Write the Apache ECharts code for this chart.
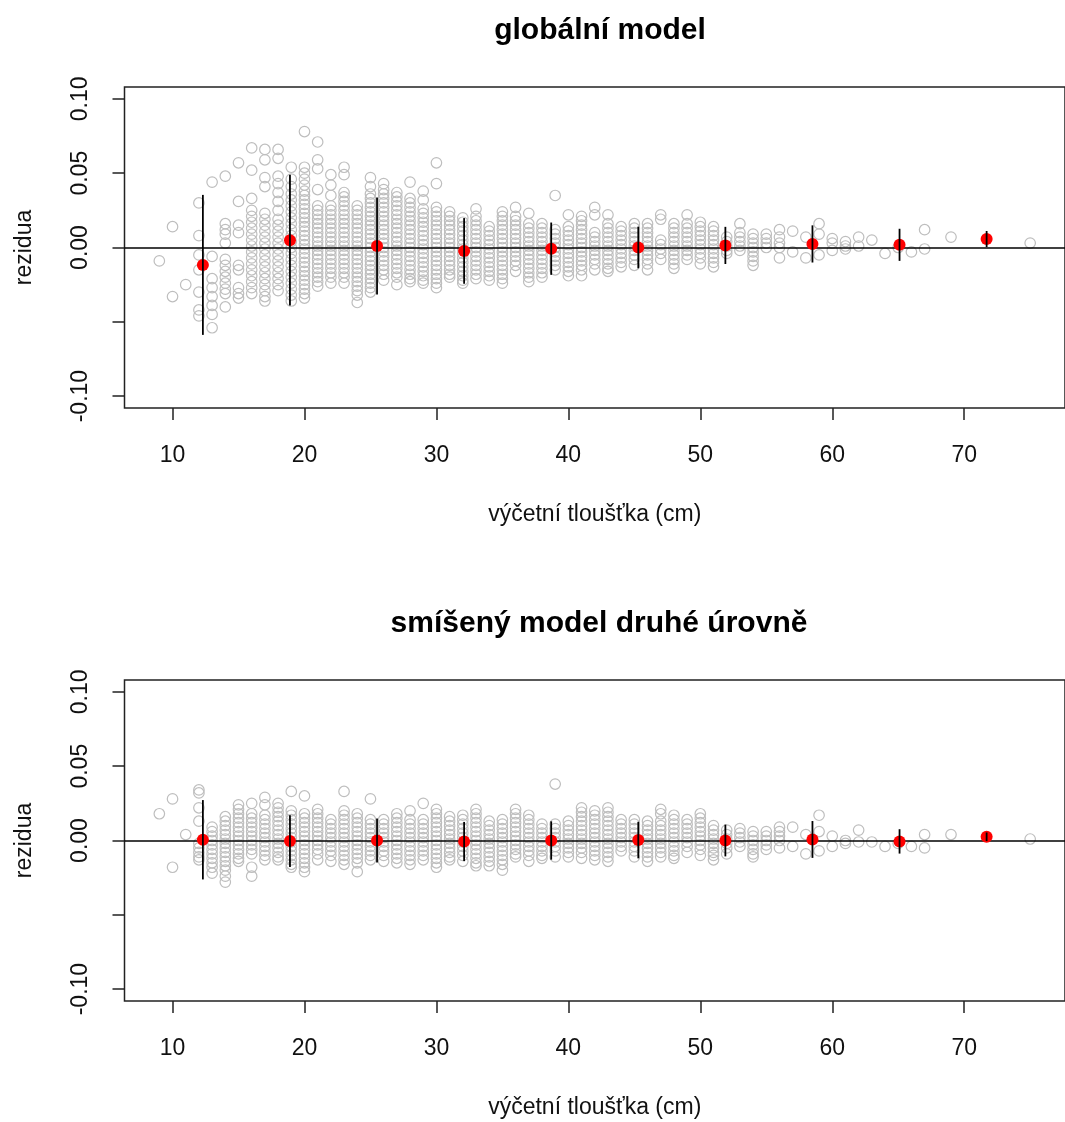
<!DOCTYPE html>
<html>
<head>
<meta charset="utf-8">
<script src="https://cdn.jsdelivr.net/npm/echarts@6/dist/echarts.min.js"></script>
<style>html,body{margin:0;padding:0;background:#fff}#c{width:1065px;height:1122px}</style>
</head>
<body>
<div id="c"></div>
<script>
// ---- data ----
const titles = ['globální model', 'smíšený model druhé úrovně'];
const xName = 'výčetní tloušťka (cm)';
const yName = 'rezidua';
const xTicks = [10, 20, 30, 40, 50, 60, 70];
const yTicks = [-0.10, -0.05, 0.00, 0.05, 0.10];
const yTickLabels = ['-0.10', '', '0.00', '0.05', '0.10'];

const diam = [9,10,11,12,13,14,15,16,17,18,19,20,21,22,23,24,25,26,27,28,29,30,31,32,33,34,35,36,37,38,39,40,41,42,43,44,45,46,47,48,49,50,51,52,53,54,55,56,57,58,59,60,61,62,63,64,65,66,67,69,75];

const residGlobal = [
 [-.009],
 [.014,-.033],
 [-.025],
 [.030,.008,-.005,-.015,-.030,-.042,-.046],
 [.044,-.006,-.021,-.027,-.033,-.039,-.045,-.054],
 [.048,.016,.012,.009,.003,-.008,-.012,-.016,-.020,-.024,-.028,-.031,-.040],
 [.057,.031,.015,.010,-.012,-.015,-.027,-.031,-.034],
 [.067,.052,.033,.025,.021,.017,.013,.009,.005,.001,-.003,-.007,-.011,-.015,-.019,-.023,-.027,-.031],
 [.066,.059,.047,.041,.023,.019,.015,.011,.007,.003,-.001,-.005,-.009,-.013,-.017,-.021,-.025,-.029,-.033,-.036],
 [.066,.060,.048,.043,.037,.031,.025,.019,.015,.011,.007,.003,-.001,-.005,-.009,-.013,-.017,-.021,-.025,-.029],
 [.054,.046,.041,.036,.032,.028,.024,.020,.016,.012,.008,.004,.000,-.004,-.008,-.012,-.016,-.020,-.024,-.028,-.032,-.036],
 [.078,.054,.050,.046,.042,.038,.035,.032,.029,.026,.023,.020,.017,.014,.011,.008,.005,.002,-.001,-.004,-.007,-.010,-.013,-.016,-.019,-.022,-.025,-.028,-.031,-.034],
 [.071,.059,.053,.039,.028,.025,.022,.019,.016,.013,.010,.007,.004,.001,-.002,-.005,-.008,-.011,-.014,-.017,-.020,-.023,-.026],
 [.049,.042,.035,.028,.025,.022,.019,.016,.013,.010,.007,.004,.001,-.002,-.005,-.008,-.011,-.014,-.017,-.020,-.024],
 [.054,.049,.037,.034,.031,.028,.025,.022,.019,.016,.013,.010,.007,.004,.001,-.002,-.005,-.008,-.011,-.014,-.017,-.020,-.024],
 [.028,.025,.022,.019,.016,.013,.010,.007,.004,.001,-.002,-.005,-.008,-.011,-.014,-.017,-.020,-.023,-.026,-.029,-.032,-.037],
 [.047,.041,.036,.033,.030,.027,.024,.021,.018,.015,.012,.009,.006,.003,.000,-.003,-.006,-.009,-.012,-.015,-.018,-.021,-.024,-.027,-.030],
 [.043,.039,.036,.033,.030,.027,.024,.021,.018,.015,.012,.009,.006,.003,.000,-.003,-.006,-.009,-.012,-.015,-.018,-.022],
 [.037,.034,.031,.028,.025,.022,.019,.016,.013,.010,.007,.004,.001,-.002,-.005,-.008,-.011,-.014,-.017,-.020,-.025],
 [.044,.033,.030,.027,.024,.021,.018,.015,.012,.009,.006,.003,.000,-.003,-.006,-.009,-.012,-.015,-.018,-.021,-.023],
 [.038,.032,.026,.023,.020,.017,.014,.011,.008,.005,.002,-.001,-.004,-.007,-.010,-.013,-.016,-.019,-.022,-.024],
 [.057,.043,.027,.024,.021,.018,.015,.012,.009,.006,.003,.000,-.003,-.006,-.009,-.012,-.015,-.018,-.021,-.024,-.027],
 [.024,.021,.018,.015,.012,.009,.006,.003,.000,-.003,-.006,-.009,-.012,-.015,-.018,-.020],
 [.020,.017,.014,.011,.008,.005,.002,-.001,-.004,-.007,-.010,-.013,-.016,-.019,-.022,-.024],
 [.026,.021,.018,.015,.012,.009,.006,.003,.000,-.003,-.006,-.009,-.012,-.015,-.018,-.021],
 [.014,.011,.008,.005,.002,-.001,-.004,-.007,-.010,-.013,-.016,-.019,-.022],
 [.024,.021,.018,.015,.012,.009,.006,.003,.000,-.003,-.006,-.009,-.012,-.015,-.018,-.021,-.024],
 [.027,.021,.018,.015,.012,.009,.006,.003,.000,-.003,-.006,-.009,-.012,-.016],
 [.023,.016,.013,.010,.007,.004,.001,-.002,-.005,-.008,-.011,-.014,-.017,-.020,-.023],
 [.016,.013,.010,.007,.004,.001,-.002,-.005,-.008,-.011,-.014,-.017,-.020],
 [.035,.012,.009,.006,.003,.000,-.003,-.006,-.009,-.012,-.015],
 [.022,.014,.011,.008,.005,.002,-.001,-.004,-.007,-.010,-.013,-.016,-.019],
 [.021,.018,.015,.012,.009,.006,.003,.000,-.003,-.006,-.009,-.012,-.015,-.019],
 [.027,.022,.010,.007,.004,.001,-.002,-.005,-.008,-.011,-.015],
 [.022,.016,.013,.010,.007,.004,.001,-.002,-.005,-.008,-.011,-.014,-.016],
 [.014,.011,.008,.005,.002,-.001,-.004,-.007,-.010,-.013],
 [.016,.013,.010,.007,.004,.001,-.002,-.005,-.008,-.012],
 [.016,.013,.010,.007,.004,.001,-.002,-.005,-.008,-.011,-.015],
 [.022,.019,.005,.002,-.001,-.004,-.008],
 [.016,.013,.010,.007,.004,.001,-.002,-.005,-.008,-.011,-.014],
 [.022,.016,.013,.010,.007,.004,.001,-.002,-.005,-.008],
 [.017,.014,.011,.008,.005,.002,-.001,-.004,-.007,-.011],
 [.014,.011,.008,.005,.002,-.001,-.004,-.007,-.010,-.013],
 [.007,.004,.001,-.002,-.004],
 [.016,.010,.007,.004,.001,-.002],
 [.009,.006,.003,.000,-.003,-.006,-.009,-.012],
 [.009,.006,.003,.000],
 [.012,.007,.003,.000,-.007],
 [.011,-.003],
 [.007,-.007],
 [.016,.009,-.005],
 [.006,.003,-.002],
 [.004,.001,-.001],
 [.007,.001],
 [.005],
 [-.004],
 [.000],
 [-.003],
 [.012,-.001],
 [.007],
 [.003]
];

const residMixed = [
 [.018],
 [.028,-.018],
 [.004],
 [.034,.032,.022,.013,-.002,-.005,-.008,-.011,-.013],
 [.009,.006,.003,.000,-.003,-.006,-.009,-.012,-.015,-.018,-.022],
 [.016,.013,.010,.007,.004,.001,-.002,-.005,-.008,-.011,-.014,-.017,-.020,-.024,-.028],
 [.024,.021,.018,.015,.012,.009,.006,.003,.000,-.003,-.006,-.009,-.012,-.014],
 [.025,.018,.015,.012,.009,.006,.003,.000,-.003,-.006,-.009,-.018,-.024],
 [.029,.024,.017,.014,.011,.008,.005,.002,-.001,-.004,-.007,-.010,-.013],
 [.025,.022,.019,.016,.013,.010,.007,.004,.001,-.002,-.005,-.008,-.011,-.013],
 [.033,.020,.017,.014,.011,.008,.005,.002,-.001,-.004,-.007,-.010,-.013,-.016,-.018],
 [.030,.018,.015,.012,.009,.006,.003,.000,-.003,-.006,-.009,-.012,-.015,-.018,-.021],
 [.021,.018,.015,.012,.009,.006,.003,.000,-.003,-.006,-.009,-.013],
 [.014,.011,.008,.005,.002,-.001,-.004,-.007,-.010,-.014],
 [.033,.020,.017,.014,.011,.008,.005,.002,-.001,-.004,-.007,-.010,-.013,-.016],
 [.018,.015,.012,.009,.006,.003,.000,-.003,-.006,-.009,-.012,-.015,-.021],
 [.028,.014,.011,.008,.005,.002,-.001,-.004,-.007,-.010,-.013],
 [.014,.011,.008,.005,.002,-.001,-.004,-.007,-.010,-.014],
 [.018,.015,.012,.009,.006,.003,.000,-.003,-.006,-.009,-.012,-.015],
 [.020,.014,.011,.008,.005,.002,-.001,-.004,-.007,-.010,-.013,-.016],
 [.025,.014,.011,.008,.005,.002,-.001,-.004,-.007,-.010,-.013],
 [.021,.018,.015,.012,.009,.006,.003,.000,-.003,-.006,-.009,-.012,-.015,-.018],
 [.016,.013,.010,.007,.004,.001,-.002,-.005,-.008,-.011,-.013],
 [.017,.014,.011,.008,.005,.002,-.001,-.004,-.007,-.010,-.014],
 [.021,.018,.015,.012,.009,.006,.003,.000,-.003,-.006,-.009,-.012,-.015,-.017],
 [.013,.010,.007,.004,.001,-.002,-.005,-.008,-.011,-.014,-.017],
 [.014,.011,.008,.005,.002,-.001,-.004,-.007,-.010,-.013,-.016,-.020],
 [.021,.018,.015,.012,.009,.006,.003,.000,-.003,-.006,-.009,-.011],
 [.017,.014,.011,.008,.005,.002,-.001,-.004,-.007,-.010,-.014],
 [.011,.008,.005,.002,-.001,-.004,-.007,-.010,-.012],
 [.038,.011,.008,.005,.002,-.001,-.004,-.007,-.011],
 [.013,.010,.007,.004,.001,-.002,-.005,-.008,-.011],
 [.022,.019,.016,.013,.010,.007,.004,.001,-.002,-.005,-.008,-.012],
 [.020,.017,.014,.011,.008,.005,.002,-.001,-.004,-.007,-.010,-.013],
 [.022,.019,.016,.013,.010,.007,.004,.001,-.002,-.005,-.008,-.011,-.014],
 [.014,.011,.008,.005,.002,-.001,-.004,-.007],
 [.014,.011,.008,.005,.002,-.001,-.004,-.007,-.011],
 [.013,.010,.007,.004,.001,-.002,-.005,-.008,-.011,-.014],
 [.021,.018,.013,.010,.007,.004,.001,-.002,-.005,-.008,-.011],
 [.017,.014,.011,.008,.005,.002,-.001,-.004,-.007,-.010,-.012],
 [.014,.011,.008,.005,.002,-.001,-.004,-.008],
 [.018,.015,.012,.009,.006,.003,.000,-.003,-.006,-.010],
 [.010,.007,.004,.001,-.002,-.005,-.008,-.010,-.013],
 [.007,.004,.001,-.002,-.005,-.009],
 [.008,.005,.002,-.001,-.004],
 [.006,.003,.000,-.003,-.006,-.009,-.011],
 [.006,.003,.000,-.003,-.006],
 [.009,.006,.003,.000,-.005],
 [.009,-.004],
 [.004,-.009],
 [.017,.006,-.007],
 [.003,-.004],
 [.000,-.002],
 [.007,-.001],
 [-.001],
 [-.004],
 [-.002],
 [-.004],
 [.004,-.005],
 [.004],
 [.001]
];

// class means with +/- one standard deviation
const binMid = [12.3, 18.9, 25.5, 32.1, 38.7, 45.3, 51.9, 58.5, 65.1, 71.7];
const meanGlobal = [-.0117, .0049, .0010, -.0023, -.0008, .0000, .0014, .0024, .0018, .0057];
const sdGlobal   = [ .0471, .0440, .0327, .0221, .0176, .0140, .0125, .0125, .0108, .0054];
const meanMixed  = [ .0005, -.0004, .0000, -.0007, .0000, .0003, .0000, .0007, -.0006, .0025];
const sdMixed    = [ .0267, .0174, .0148, .0132, .0129, .0123, .0107, .0124, .0082, .0029];

// ---- chart ----
const FONT = '"Liberation Sans", Arial, sans-serif';
const TXT = '#111';

function points(resid) {
  const out = [];
  diam.forEach((d, i) => resid[i].forEach(v => out.push([d, v])));
  return out;
}
function bars(mean, sd) {
  return binMid.map((x, i) => [x, mean[i], sd[i]]);
}
function renderBar(params, api) {
  const x = api.value(0), m = api.value(1), s = api.value(2);
  const a = api.coord([x, m - s]);
  const b = api.coord([x, m + s]);
  return { type: 'line', shape: { x1: a[0], y1: a[1], x2: b[0], y2: b[1] },
           style: { stroke: '#000', lineWidth: 1.8 } };
}

const grids = [
  { left: 124.5, top: 87, width: 950.5, height: 321 },
  { left: 124.5, top: 680, width: 950.5, height: 321 }
];

const option = {
  animation: false,
  backgroundColor: '#fff',
  textStyle: { fontFamily: FONT },
  title: [
    { text: titles[0], left: 595, top: 11, textAlign: 'center',
      textStyle: { fontFamily: FONT, fontSize: 30, fontWeight: 'bold', color: '#000' } },
    { text: titles[1], left: 594, top: 604, textAlign: 'center',
      textStyle: { fontFamily: FONT, fontSize: 30, fontWeight: 'bold', color: '#000' } }
  ],
  grid: grids.map(g => Object.assign({ show: true, borderColor: '#222', borderWidth: 1.5, backgroundColor: 'transparent' }, g)),
  xAxis: [0, 1].map(i => ({
    type: 'value', gridIndex: i, min: 6.36, max: 77.64, position: 'bottom',
    name: xName, nameLocation: 'middle', nameGap: 95,
    nameTextStyle: { fontFamily: FONT, fontSize: 23, color: TXT },
    axisLine: { show: false, onZero: false },
    splitLine: { show: false },
    axisTick: { show: true, inside: false, length: 12, customValues: xTicks, lineStyle: { color: '#222', width: 1.5 } },
    axisLabel: { customValues: xTicks, margin: 36, fontFamily: FONT, fontSize: 23, color: TXT }
  })),
  yAxis: [0, 1].map(i => ({
    type: 'value', gridIndex: i, min: -0.108, max: 0.108, position: 'left',
    name: yName, nameLocation: 'middle', nameGap: 88, nameRotate: 90,
    nameTextStyle: { fontFamily: FONT, fontSize: 23, color: TXT },
    axisLine: { show: false, onZero: false },
    splitLine: { show: false },
    axisTick: { show: true, inside: false, length: 12, customValues: yTicks, lineStyle: { color: '#222', width: 1.5 } },
    axisLabel: { customValues: yTicks, rotate: 90, margin: 32, fontFamily: FONT, fontSize: 23, color: TXT,
      formatter: v => { const k = yTicks.findIndex(t => Math.abs(t - v) < 1e-9); return k >= 0 ? yTickLabels[k] : ''; } }
  })),
  series: []
};

[[residGlobal, meanGlobal, sdGlobal], [residMixed, meanMixed, sdMixed]].forEach((set, i) => {
  option.series.push({
    type: 'scatter', xAxisIndex: i, yAxisIndex: i, z: 1, silent: true,
    symbol: 'circle', symbolSize: 10.5,
    itemStyle: { color: 'rgba(0,0,0,0)', borderColor: '#bebebe', borderWidth: 1.2, opacity: 1 },
    data: points(set[0]),
    markLine: { silent: true, symbol: 'none', label: { show: false },
      lineStyle: { color: '#000', width: 1.6, type: 'solid' }, data: [{ yAxis: 0 }], z: 2 }
  });
  option.series.push({
    type: 'scatter', xAxisIndex: i, yAxisIndex: i, z: 3, silent: true,
    symbol: 'circle', symbolSize: 12,
    itemStyle: { color: '#ff0000', opacity: 1 },
    data: binMid.map((x, k) => [x, set[1][k]])
  });
  option.series.push({
    type: 'custom', xAxisIndex: i, yAxisIndex: i, z: 4, silent: true,
    renderItem: renderBar,
    data: bars(set[1], set[2])
  });
});

const chart = echarts.init(document.getElementById('c'), null, { renderer: 'canvas' });
chart.setOption(option);
</script>
</body>
</html>
